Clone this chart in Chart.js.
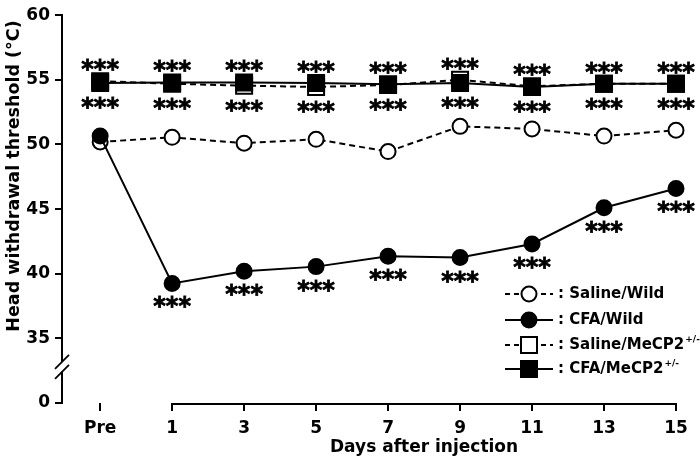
<!DOCTYPE html>
<html><head><meta charset="utf-8">
<script src="https://cdn.jsdelivr.net/npm/chart.js@4"></script>
<style>html,body{margin:0;padding:0;background:#fff}#c{display:block}</style>
</head><body>
<canvas id="c" width="700" height="462"></canvas>
<script>
// ---- data ----
const xPositions = [-1, 1, 3, 5, 7, 9, 11, 13, 15];
const tickLabels = ['Pre', '1', '3', '5', '7', '9', '11', '13', '15'];
const salineWild  = [50.2, 50.55, 50.1, 50.4, 49.45, 51.4, 51.2, 50.65, 51.1];
const cfaWild     = [50.65, 39.25, 40.2, 40.55, 41.35, 41.25, 42.3, 45.1, 46.6];
const salineMeCP2 = [54.9, 54.7, 54.55, 54.45, 54.6, 55.0, 54.5, 54.7, 54.7];
const cfaMeCP2    = [54.75, 54.8, 54.8, 54.75, 54.65, 54.75, 54.45, 54.7, 54.7];
const cfaWildSig  = [false, true, true, true, true, true, true, true, true];
const meCP2Sig    = [true, true, true, true, true, true, true, true, true];
const yTicks      = [30, 35, 40, 45, 50, 55, 60];
const yTickLabels = ['0', '35', '40', '45', '50', '55', '60'];
const seriesNames = ['Saline/Wild', 'CFA/Wild', 'Saline/MeCP2', 'CFA/MeCP2'];

const FONT = '"DejaVu Sans", "Liberation Sans", Arial, sans-serif';
const toPts = arr => arr.map((v, i) => ({x: xPositions[i], y: v}));

const base = {borderColor: '#000', pointBorderColor: '#000', borderWidth: 2, pointBorderWidth: 2, clip: false, tension: 0};
const datasets = [
  Object.assign({}, base, {label: seriesNames[3], data: toPts(cfaMeCP2), pointStyle: 'rect', pointRadius: 11.3, pointBackgroundColor: '#000', order: 0}),
  Object.assign({}, base, {label: seriesNames[2], data: toPts(salineMeCP2), pointStyle: 'rect', pointRadius: 11.3, pointBackgroundColor: '#fff', borderDash: [6, 4], order: 1}),
  Object.assign({}, base, {label: seriesNames[1], data: toPts(cfaWild), pointStyle: 'circle', pointRadius: 7.5, pointBackgroundColor: '#000', order: 2}),
  Object.assign({}, base, {label: seriesNames[0], data: toPts(salineWild), pointStyle: 'circle', pointRadius: 7.5, pointBackgroundColor: '#fff', borderDash: [6, 4], order: 3})
];

function drawCentered(ctx, text, x, y, stroke) {
  const m = ctx.measureText(text);
  const asc = m.actualBoundingBoxAscent, desc = m.actualBoundingBoxDescent;
  ctx.textBaseline = 'alphabetic';
  const by = y + (asc - desc) / 2;
  ctx.fillText(text, x, by);
  if (stroke) ctx.strokeText(text, x, by);
}

const decor = {
  id: 'decor',
  afterDatasetsDraw(chart) {
    const ctx = chart.ctx, xs = chart.scales.x, ys = chart.scales.y;
    ctx.save();
    ctx.fillStyle = '#000';
    ctx.strokeStyle = '#000';
    ctx.lineWidth = 0.8;
    ctx.textAlign = 'center';
    ctx.font = 'bold 24px ' + FONT;
    xPositions.forEach((xv, i) => {
      const px = xs.getPixelForValue(xv);
      if (meCP2Sig[i]) {
        const a = ys.getPixelForValue(salineMeCP2[i]), b = ys.getPixelForValue(cfaMeCP2[i]);
        drawCentered(ctx, '***', px, Math.min(a, b) - 16, true);
        drawCentered(ctx, '***', px, Math.max(a, b) + 20, true);
      }
      if (cfaWildSig[i]) {
        drawCentered(ctx, '***', px, ys.getPixelForValue(cfaWild[i]) + 19, true);
      }
    });
    ctx.restore();
  },
  afterDraw(chart) {
    const ctx = chart.ctx, xs = chart.scales.x, ys = chart.scales.y, ca = chart.chartArea;
    ctx.save();
    ctx.strokeStyle = '#000';
    ctx.fillStyle = '#000';
    // x axis line (days only)
    ctx.lineWidth = 2;
    ctx.beginPath();
    ctx.moveTo(xs.getPixelForValue(1) - 1, ca.bottom + 1);
    ctx.lineTo(xs.getPixelForValue(15) + 1, ca.bottom + 1);
    ctx.stroke();
    // axis break
    const c = ys.getPixelForValue(32.8);
    const L = ca.left;
    ctx.fillStyle = '#fff';
    ctx.fillRect(L - 3, c - 5, 6, 10);
    ctx.lineWidth = 1.8;
    [-5, 5].forEach(off => {
      ctx.beginPath();
      ctx.moveTo(L - 7, c + off + 7);
      ctx.lineTo(L + 7, c + off - 7);
      ctx.stroke();
    });
    // axis titles
    ctx.fillStyle = '#000';
    ctx.textAlign = 'center';
    ctx.textBaseline = 'middle';
    ctx.font = 'bold 17.5px ' + FONT;
    ctx.save();
    ctx.translate(14, 176);
    ctx.rotate(-Math.PI / 2);
    ctx.fillText('Head withdrawal threshold (\u00B0C)', 0, 0);
    ctx.restore();
    ctx.font = 'bold 17px ' + FONT;
    ctx.fillText('Days after injection', (xs.getPixelForValue(1) + xs.getPixelForValue(15)) / 2, 448);
    // legend
    const rows = [
      {name: seriesNames[0], dash: true, shape: 'circle', fill: '#fff', sup: ''},
      {name: seriesNames[1], dash: false, shape: 'circle', fill: '#000', sup: ''},
      {name: 'Saline/MeCP2', dash: true, shape: 'rect', fill: '#fff', sup: '+/-'},
      {name: 'CFA/MeCP2', dash: false, shape: 'rect', fill: '#000', sup: '+/-'}
    ];
    const ry = [294, 320, 345, 369];
    rows.forEach((r, i) => {
      const y = ry[i];
      ctx.strokeStyle = '#000';
      ctx.lineWidth = 2;
      ctx.setLineDash(r.dash ? [5, 4] : []);
      ctx.beginPath();
      ctx.moveTo(505, y); ctx.lineTo(553, y);
      ctx.stroke();
      ctx.setLineDash([]);
      ctx.fillStyle = r.fill;
      ctx.beginPath();
      if (r.shape === 'circle') ctx.arc(529, y, 7.5, 0, Math.PI * 2);
      else ctx.rect(521, y - 8, 16, 16);
      ctx.fill(); ctx.stroke();
      ctx.fillStyle = '#000';
      ctx.textAlign = 'left';
      ctx.textBaseline = 'middle';
      ctx.font = 'bold 15px ' + FONT;
      const t = ': ' + r.name;
      ctx.fillText(t, 558, y);
      if (r.sup) {
        const w = ctx.measureText(t).width;
        ctx.font = 'bold 9px ' + FONT;
        ctx.fillText(r.sup, 558 + w + 1, y - 5);
      }
    });
    ctx.restore();
  }
};

new Chart(document.getElementById('c'), {
  type: 'line',
  data: {datasets},
  options: {
    responsive: false,
    animation: false,
    devicePixelRatio: 1,
    layout: {padding: {left: 0, right: 24, top: 12, bottom: 0}},
    plugins: {legend: {display: false}, tooltip: {enabled: false}},
    scales: {
      x: {
        type: 'linear', min: -2.06, max: 15,
        afterBuildTicks: s => { s.ticks = xPositions.map(v => ({value: v})); },
        ticks: {callback: (v, i) => tickLabels[i], color: '#000', padding: 7, maxRotation: 0, autoSkip: false,
                font: {family: FONT, size: 17, weight: 'bold'}},
        grid: {drawOnChartArea: false, drawTicks: true, tickLength: 8, color: '#000', lineWidth: 2},
        border: {display: false},
        afterFit: s => { s.height = 59; }
      },
      y: {
        type: 'linear', min: 30, max: 60,
        afterBuildTicks: s => { s.ticks = yTicks.map(v => ({value: v})); },
        ticks: {callback: (v, i) => yTickLabels[i], color: '#000', padding: 5,
                font: {family: FONT, size: 17, weight: 'bold'}},
        grid: {drawOnChartArea: false, drawTicks: true, tickLength: 7, color: '#000', lineWidth: 2},
        border: {display: true, color: '#000', width: 2},
        afterFit: s => { s.width = 62; }
      }
    }
  },
  plugins: [decor]
});
</script>
</body></html>
